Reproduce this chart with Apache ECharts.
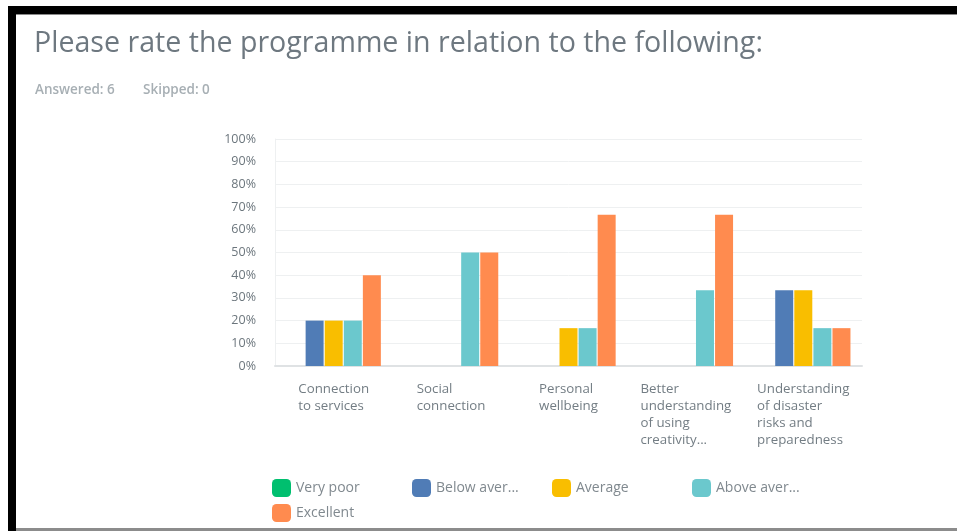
<!DOCTYPE html>
<html>
<head>
<meta charset="utf-8">
<script src="https://cdn.jsdelivr.net/npm/echarts@6/dist/echarts.min.js"></script>
<style>
  html, body { margin: 0; padding: 0; background: #ffffff; }
  #chart { width: 957px; height: 531px; }
</style>
</head>
<body>
<div id="chart"></div>
<script>
// Survey question and response counts
const questionTitle = 'Please rate the programme in relation to the following:';
const answeredCount = 6;
const skippedCount = 0;

// Rows of the rating matrix (line breaks as shown under the axis)
const categories = [
  'Connection\nto services',
  'Social\nconnection',
  'Personal\nwellbeing',
  'Better\nunderstanding\nof using\ncreativity...',
  'Understanding\nof disaster\nrisks and\npreparedness'
];

// Rating columns and the legend text shown for each
const ratingNames = ['Very poor', 'Below average', 'Average', 'Above average', 'Excellent'];
const legendLabels = ['Very poor', 'Below aver...', 'Average', 'Above aver...', 'Excellent'];

// Percent of respondents choosing each rating, per row
const veryPoor     = [0, 0, 0, 0, 0];
const belowAverage = [20, 0, 0, 0, 33.33];
const average      = [20, 0, 16.67, 0, 33.33];
const aboveAverage = [20, 50, 16.67, 33.33, 16.67];
const excellent    = [40, 50, 66.67, 66.67, 16.67];

// Value axis ticks
const yMin = 0, yMax = 100, yStep = 10;

const ratingValues = [veryPoor, belowAverage, average, aboveAverage, excellent];
const ratingColors = ['#00bf6f', '#507cb6', '#f9be00', '#6bc8cd', '#ff8b4f'];

const FONT = '"Open Sans", sans-serif';

// Legend grid: four fixed-width slots per row
const LEGEND_LEFT = 272, LEGEND_TOP = 479, LEGEND_SLOT = 140, LEGEND_ROW = 25, LEGEND_PER_ROW = 4;

const chart = echarts.init(document.getElementById('chart'), null, { renderer: 'canvas' });

chart.setOption({
  backgroundColor: '#ffffff',
  animation: false,
  title: [
    {
      text: questionTitle,
      left: 34, top: 29, padding: 0,
      textStyle: { fontFamily: FONT, fontSize: 28.6, fontWeight: 'normal', color: '#6e7880' }
    },
    {
      text: 'Answered: ' + answeredCount,
      left: 35, top: 83, padding: 0,
      textStyle: { fontFamily: FONT, fontSize: 13.5, fontWeight: 600, color: '#a7afb4' }
    },
    {
      text: 'Skipped: ' + skippedCount,
      left: 143, top: 83, padding: 0,
      textStyle: { fontFamily: FONT, fontSize: 13.5, fontWeight: 600, color: '#a7afb4' }
    }
  ],
  // page frame edges
  graphic: [
    { type: 'rect', shape: { x: 8, y: 6, width: 949, height: 8 }, style: { fill: '#000000' } },
    { type: 'rect', shape: { x: 16, y: 14, width: 941, height: 1 }, style: { fill: '#8a8a8a' } },
    { type: 'rect', shape: { x: 8, y: 6, width: 8, height: 525 }, style: { fill: '#000000' } },
    { type: 'rect', shape: { x: 16, y: 528, width: 941, height: 3 }, style: { fill: '#8c8c8c' } }
  ],
  legend: ratingNames.map((name, i) => ({
    left: LEGEND_LEFT + (i % LEGEND_PER_ROW) * LEGEND_SLOT,
    top: LEGEND_TOP + Math.floor(i / LEGEND_PER_ROW) * LEGEND_ROW,
    orient: 'horizontal',
    icon: 'roundRect',
    itemWidth: 19, itemHeight: 18,
    padding: 0,
    data: [name],
    formatter: n => legendLabels[ratingNames.indexOf(n)],
    textStyle: { fontFamily: FONT, fontSize: 14, color: '#80898f' }
  })),
  grid: { left: 275, right: 95, top: 139, bottom: 165, containLabel: false },
  xAxis: {
    type: 'category',
    data: categories,
    axisTick: { show: false },
    axisLine: { show: true, lineStyle: { color: '#dfe2e4', width: 2 } },
    axisLabel: {
      margin: 15,
      interval: 0,
      fontFamily: FONT,
      fontSize: 13.3,
      color: '#737d84',
      formatter: v => v.split('\n').map(l => '{a|' + l + '}').join('\n'),
      rich: { a: { align: 'left', lineHeight: 17, fontFamily: FONT, fontSize: 13.3, color: '#737d84' } }
    }
  },
  yAxis: {
    type: 'value',
    min: yMin, max: yMax, interval: yStep,
    axisLine: { show: true, lineStyle: { color: '#eef0f1', width: 1 } },
    axisTick: { show: false },
    splitLine: { show: true, lineStyle: { color: '#eef0f1', width: 1 } },
    axisLabel: {
      margin: 19,
      fontFamily: FONT, fontSize: 12.5, color: '#6c767d',
      formatter: '{value}%'
    }
  },
  series: ratingNames.map((name, i) => ({
    name: name,
    type: 'bar',
    data: ratingValues[i],
    barWidth: 18,
    barGap: '6%',
    itemStyle: { color: ratingColors[i] }
  }))
});
</script>
</body>
</html>
